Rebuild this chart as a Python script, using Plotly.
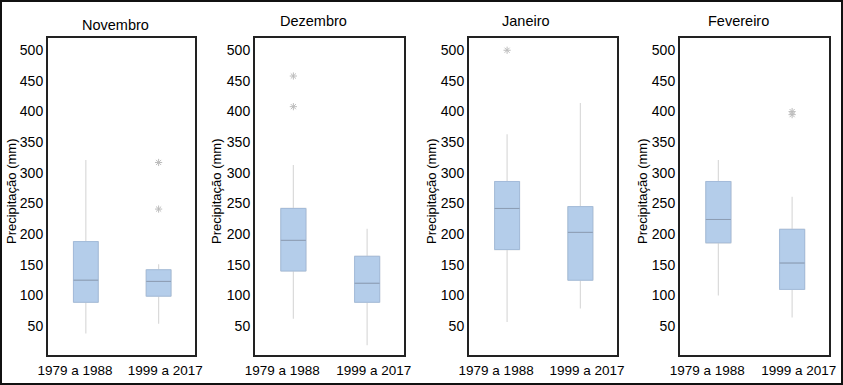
import plotly.graph_objects as go

# ---- data ----
months = ["Novembro", "Dezembro", "Janeiro", "Fevereiro"]
periods = ["1979 a 1988", "1999 a 2017"]

# per month: [1979 a 1988, 1999 a 2017]
lower_fence = [[38, 54], [62, 19], [57, 79], [100, 64]]
q1_vals = [[89, 99], [140, 89], [175, 125], [186, 110]]
median_vals = [[125, 123], [190, 120], [242, 203], [224, 153]]
q3_vals = [[188, 142], [242, 164], [286, 245], [286, 208]]
upper_fence = [[321, 151], [313, 209], [363, 414], [321, 261]]
outliers = [[[], [317, 241]], [[458, 408], []], [[500], []], [[], [400, 395]]]

y_ticks = [50, 100, 150, 200, 250, 300, 350, 400, 450, 500]
y_title = "Precipitação (mm)"

# ---- layout constants ----
W, H = 843, 385
panel_px = [(48, 195), (255, 404), (469, 617), (680, 829)]
title_px = [(115, 25), (313, 21), (526, 21), (738, 21)]
ytitle_px = [12, 217, 432, 643]
top_px, bot_px = 38, 355
box_pos = [0, 1]
label_pos = [-0.15, 1.09]

FONT = "Liberation Sans, Arial, sans-serif"
BOX_FILL = "#b4cdea"
BOX_LINE = "#a3bbd9"
WHISKER = "#dadada"
MEDIAN = "#8d9db3"
OUTLIER = "#bcbcbc"
TEXT = "#000000"

fig = go.Figure()
shapes = []
annotations = []

for i, m in enumerate(months):
    xa = "x" if i == 0 else f"x{i+1}"
    ya = "y" if i == 0 else f"y{i+1}"
    for j, p in enumerate(periods):
        # whiskers layer
        fig.add_trace(go.Box(
            x=[box_pos[j]], q1=[q1_vals[i][j]], median=[median_vals[i][j]],
            q3=[q3_vals[i][j]], lowerfence=[lower_fence[i][j]],
            upperfence=[upper_fence[i][j]], width=0.34, whiskerwidth=0,
            fillcolor="rgba(0,0,0,0)", line=dict(color=WHISKER, width=1.2),
            boxpoints=False, showlegend=False, hoverinfo="skip",
            xaxis=xa, yaxis=ya, name=p))
        # box layer (no whiskers)
        fig.add_trace(go.Box(
            x=[box_pos[j]], q1=[q1_vals[i][j]], median=[median_vals[i][j]],
            q3=[q3_vals[i][j]], lowerfence=[q1_vals[i][j]],
            upperfence=[q3_vals[i][j]], width=0.34, whiskerwidth=0,
            fillcolor=BOX_FILL, line=dict(color=BOX_LINE, width=1),
            boxpoints=False, showlegend=False,
            xaxis=xa, yaxis=ya, name=p))
        # median line on top
        fig.add_trace(go.Scatter(
            x=[box_pos[j] - 0.17, box_pos[j] + 0.17],
            y=[median_vals[i][j], median_vals[i][j]],
            mode="lines", line=dict(color=MEDIAN, width=1),
            showlegend=False, hoverinfo="skip", xaxis=xa, yaxis=ya))
        if outliers[i][j]:
            fig.add_trace(go.Scatter(
                x=[box_pos[j]] * len(outliers[i][j]), y=outliers[i][j],
                mode="markers",
                marker=dict(symbol="asterisk-open", size=6,
                            line=dict(color=OUTLIER, width=1), color=OUTLIER),
                showlegend=False, xaxis=xa, yaxis=ya))

    x0, x1 = panel_px[i]
    xkey = "xaxis" if i == 0 else f"xaxis{i+1}"
    ykey = "yaxis" if i == 0 else f"yaxis{i+1}"
    fig.layout[xkey] = dict(
        domain=[x0 / W, x1 / W], range=[-0.52, 1.5], anchor=ya,
        tickvals=label_pos, ticktext=periods, showgrid=False, zeroline=False,
        showline=True, mirror=True, linecolor="#222222", linewidth=2,
        ticks="", tickfont=dict(family=FONT, size=13.5, color=TEXT),
        ticklabelstandoff=2, fixedrange=True, automargin=False)
    fig.layout[ykey] = dict(
        domain=[1 - bot_px / H, 1 - top_px / H], range=[3, 520], anchor=xa,
        tickvals=y_ticks, showgrid=False, zeroline=False,
        showline=True, mirror=True, linecolor="#222222", linewidth=2,
        ticks="", tickfont=dict(family=FONT, size=14, color=TEXT),
        ticklabelstandoff=0, fixedrange=True, automargin=False)

    tx, ty = title_px[i]
    annotations.append(dict(
        text=m, x=tx / W, y=1 - ty / H, xref="paper", yref="paper",
        xanchor="center", yanchor="middle", showarrow=False,
        font=dict(family=FONT, size=14.5, color=TEXT)))
    annotations.append(dict(
        text=y_title, x=ytitle_px[i] / W, y=1 - 192 / H, xref="paper", yref="paper",
        xanchor="center", yanchor="middle", showarrow=False, textangle=-90,
        font=dict(family=FONT, size=13, color=TEXT)))

shapes.append(dict(type="rect", xref="paper", yref="paper",
                   x0=1 / W, x1=1 - 1 / W, y0=1 / H, y1=1 - 1 / H,
                   line=dict(color="#111111", width=2)))

fig.update_layout(
    width=W, height=H, margin=dict(l=0, r=0, t=0, b=0, pad=0),
    paper_bgcolor="white", plot_bgcolor="white",
    shapes=shapes, annotations=annotations, showlegend=False,
    font=dict(family=FONT),
)

fig.write_html("out.html", config={"displayModeBar": False},
               post_script="document.body.style.margin='0';document.body.style.overflow='hidden';")
